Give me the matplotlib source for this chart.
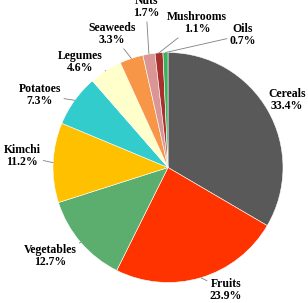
import numpy as np
import matplotlib
matplotlib.use("Agg")
import matplotlib.pyplot as plt

# food groups share (%)
categorias = ["Cereals", "Fruits", "Vegetables", "Kimchi", "Potatoes",
              "Legumes", "Seaweeds", "Nuts", "Mushrooms", "Oils"]
valores = [33.4, 23.9, 12.7, 11.2, 7.3, 4.6, 3.3, 1.7, 1.1, 0.7]
colores = ["#595959", "#ff3300", "#5bae6e", "#ffc000", "#33cccc",
           "#ffffcc", "#f79646", "#d99694", "#a8302d", "#3cb15a"]

# posicion de las etiquetas en pixeles (x, y desde arriba)
pos_etiquetas = [(287, 100), (226, 290), (50, 256), (22, 156), (40, 95),
                 (80, 62), (112, 34), (146, 7), (197, 23), (243, 35)]

W, H = 308, 303
CX, CY, R = 168, 167.5, 115

fig = plt.figure(figsize=(W / 100, H / 100), dpi=100)
ax = fig.add_axes([0, 0, 1, 1])

wedges, _ = ax.pie(valores, colors=colores, startangle=90, counterclock=False,
                   radius=1, wedgeprops=dict(edgecolor="white", linewidth=0.4))

ax.set_xlim(-CX / R, (W - CX) / R)
ax.set_ylim(-(H - CY) / R, CY / R)
ax.set_aspect("auto")
ax.axis("off")


def px2data(px, py):
    return (px - CX) / R, (CY - py) / R


for w, nombre, v, (px, py) in zip(wedges, categorias, valores, pos_etiquetas):
    ang = np.deg2rad((w.theta1 + w.theta2) / 2)
    xy = (np.cos(ang), np.sin(ang))
    tx, ty = px2data(px, py)
    props = None
    if nombre != "Cereals":
        props = dict(arrowstyle="-", color="#7f7f7f", lw=0.6,
                     shrinkA=0, shrinkB=0)
    ax.annotate(f"{nombre}\n{v}%", xy=xy, xytext=(tx, ty), ha="center",
                va="center", fontsize=8.5, fontweight="bold",
                family="Liberation Serif", linespacing=1.0,
                arrowprops=props, annotation_clip=False)

fig.savefig("out.png", dpi=100)
